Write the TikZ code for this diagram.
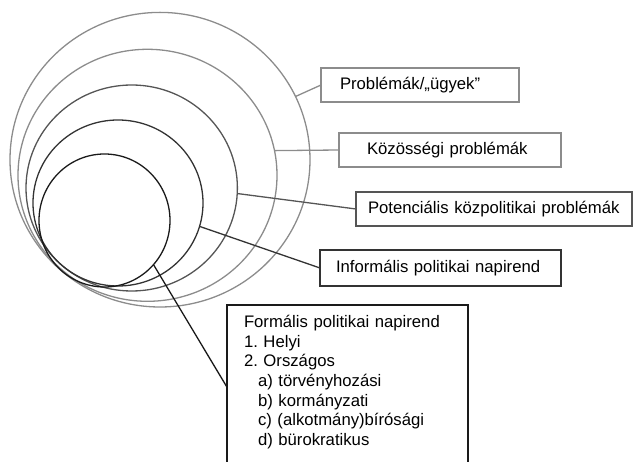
\documentclass[tikz,border=0pt]{standalone}
\usepackage{fontspec}
\setmainfont{Liberation Sans}
\usepackage{xcolor}
\usepackage{tikz}
\usetikzlibrary{shapes.geometric}
\definecolor{ringlight}{HTML}{8C8C8C}
\definecolor{ringmid}{HTML}{555555}
\definecolor{ringdark}{HTML}{333333}
\definecolor{ringblack}{HTML}{1A1A1A}
\frenchspacing
\tikzset{
  ring/.style={draw=#1, ellipse, inner sep=0pt, outer sep=0pt, line width=1.3pt},
  labelbox/.style={draw=#1, rectangle, anchor=north west, align=left, inner ysep=0pt,
    minimum height=34pt, outer sep=0pt, line width=1.3pt,
    font=\fontsize{16.7}{19.6}\selectfont},
  link/.style={draw=#1, line width=1.3pt},
}

\begin{document}
\begin{tikzpicture}[x=1pt, y=-1pt]
      \useasboundingbox (0,0) rectangle (633,462);
      \node[ring=ringlight, minimum width=300pt, minimum height=294.6pt] (c1) at (160,159.7) {};
      \node[ring=ringlight, minimum width=259pt, minimum height=252pt] (c2) at (147.5,175.3) {};
      \node[ring=ringmid, minimum width=211.4pt, minimum height=206pt] (c3) at (131.7,188) {};
      \node[ring=ringdark, minimum width=170pt, minimum height=166pt] (c4) at (118,203) {};
      \node[ring=ringblack, minimum width=131pt, minimum height=133pt] (c5) at (104.5,220.5) {};
      \node[labelbox=ringlight, text width=160pt, inner xsep=19pt] (issues) at (321,68) {Problémák/„ügyek”};
      \node[labelbox=ringlight, text width=166pt, inner xsep=28pt] (community) at (339,133) {Közösségi problémák};
      \node[labelbox=ringmid, text width=252pt, inner xsep=12pt] (potential) at (356,192) {Potenciális közpolitikai problémák};
      \node[labelbox=ringdark, text width=209pt, inner xsep=16pt, minimum height=36pt] (informal) at (320,250) {Informális politikai napirend};
      \node[labelbox=white, draw=none, text width=207pt, inner xsep=17pt, inner ysep=10.5pt] (formal) at (227,305) {Formális politikai napirend\\
        1. Helyi\\
        2. Országos\\
        \hspace*{14pt}a) törvényhozási\\
        \hspace*{14pt}b) kormányzati\\
        \hspace*{14pt}c) (alkotmány)bírósági\\
        \hspace*{14pt}d) bürokratikus};
      \draw[link=ringblack] ([yshift=-8pt]formal.south west) -- (formal.north west) -- (formal.north east) -- ([yshift=-8pt]formal.south east);
      \draw[link=ringlight] (c1.25.8) -- (issues.west);
      \draw[link=ringlight] (c2.11.2) -- (community.west);
      \draw[link=ringmid] (c3.-3.8) -- (potential.west);
      \draw[link=ringdark] (c4.-16.6) -- (informal.west);
      \draw[link=ringblack] (c5.-42.6) -- ([yshift=-5pt]formal.west);
\end{tikzpicture}
\end{document}
